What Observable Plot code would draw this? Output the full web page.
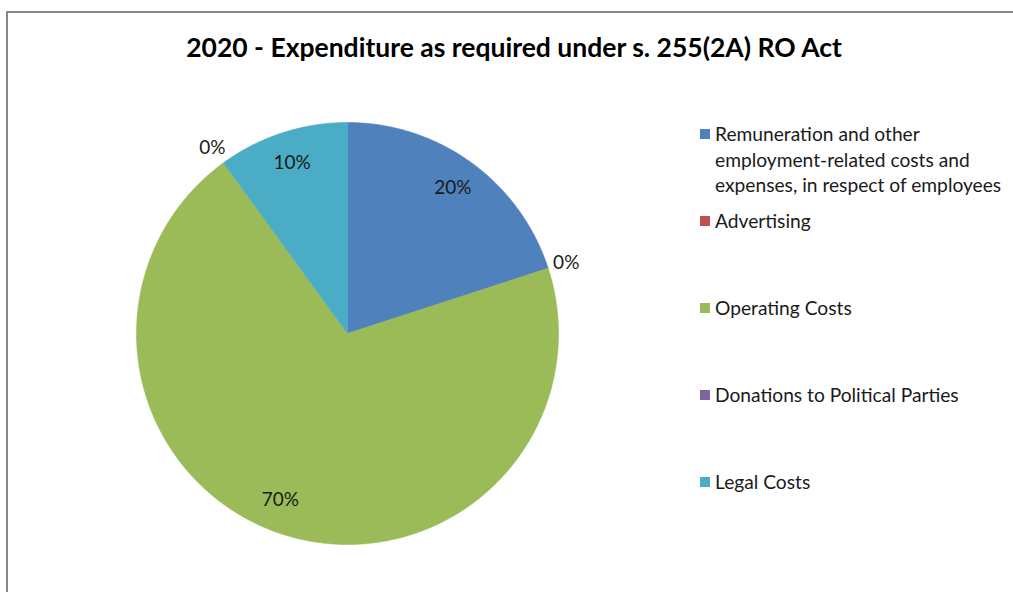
<!DOCTYPE html>
<html>
<head>
<meta charset="utf-8">
<script src="https://cdn.jsdelivr.net/npm/d3@7"></script>
<script src="https://cdn.jsdelivr.net/npm/@observablehq/plot@0.6"></script>
<style>
  html, body { margin: 0; padding: 0; background: #fff; }
  body { width: 1013px; height: 592px; position: relative; overflow: hidden; font-family: Lato, "Open Sans", sans-serif; }
  #frame { position: absolute; left: 6px; top: 11px; width: 1100px; height: 700px; border-left: 2px solid #878787; border-top: 2px solid #878787; }
  #chart { position: absolute; left: 0; top: 0; }
  #title { position: absolute; left: 0; width: 1028px; top: 31px; text-align: center; font-weight: bold; font-size: 26.5px; color: #000; }
  .item { position: absolute; left: 700px; width: 310px; font-size: 19.2px; line-height: 25.5px; color: #1a1a1a; }
  .sw { position: absolute; left: 0; top: 8px; width: 10px; height: 10px; }
  .lab { margin-left: 15px; }
</style>
</head>
<body>
<div id="frame"></div>
<div id="chart"></div>
<div id="title"></div>
<div id="legend"></div>
<script>
const title = "2020 - Expenditure as required under s. 255(2A) RO Act";
const categories = [
  "Remuneration and other employment-related costs and expenses, in respect of employees",
  "Advertising",
  "Operating Costs",
  "Donations to Political Parties",
  "Legal Costs"
];
const values = [20, 0, 70, 0, 10];
const colors = ["#4F81BD", "#C0504D", "#9BBB59", "#8064A2", "#4BACC6"];

document.getElementById("title").textContent = title;

const data = categories.map((c, i) => ({category: c, value: values[i]}));
const total = d3.sum(values);
const arcs = d3.pie().sort(null).value(d => d.value)(data);

// polygon points for each slice (unit radius, angle 0 at top, clockwise)
const pts = [];
for (const a of arcs) {
  if (a.endAngle - a.startAngle <= 0) continue;
  const n = Math.max(2, Math.ceil((a.endAngle - a.startAngle) / 0.01));
  pts.push({category: a.data.category, x: 0, y: 0});
  for (let k = 0; k <= n; k++) {
    const t = a.startAngle + (a.endAngle - a.startAngle) * k / n;
    pts.push({category: a.data.category, x: Math.sin(t), y: Math.cos(t)});
  }
  pts.push({category: a.data.category, x: 0, y: 0});
}

const labels = arcs.map(a => {
  const span = a.endAngle - a.startAngle;
  const zero = span <= 0;
  // large slices: Excel nudges the label toward the slice's far side
  const mid = (a.startAngle + a.endAngle) / 2 + (span > Math.PI ? 0.07 : 0);
  const rr = zero ? 1.09 : 0.85;
  return {
    x: Math.sin(mid) * rr,
    y: Math.cos(mid) * rr,
    text: Math.round(a.data.value / total * 100) + "%"
  };
});

const plot = Plot.plot({
  width: 1013,
  height: 592,
  margin: 0,
  x: {domain: [-1, 1], range: [136, 558], axis: null},
  y: {domain: [-1, 1], range: [544, 122], axis: null},
  color: {domain: categories, range: colors},
  style: {background: "transparent", fontFamily: "Lato, 'Open Sans', sans-serif"},
  marks: [
    Plot.line(pts, {x: "x", y: "y", z: "category", fill: "category", stroke: "category", strokeWidth: 0.6, curve: "linear"}),
    Plot.text(labels, {x: "x", y: "y", text: "text", fontSize: 19, fill: "#1a1a1a"})
  ]
});
document.getElementById("chart").appendChild(plot);

const legend = document.getElementById("legend");
categories.forEach((c, i) => {
  const it = document.createElement("div");
  it.className = "item";
  it.style.top = (121 + i * 87) + "px";
  const sw = document.createElement("div");
  sw.className = "sw";
  sw.style.background = colors[i];
  const lab = document.createElement("div");
  lab.className = "lab";
  lab.textContent = c;
  it.appendChild(sw);
  it.appendChild(lab);
  legend.appendChild(it);
});
</script>
</body>
</html>
